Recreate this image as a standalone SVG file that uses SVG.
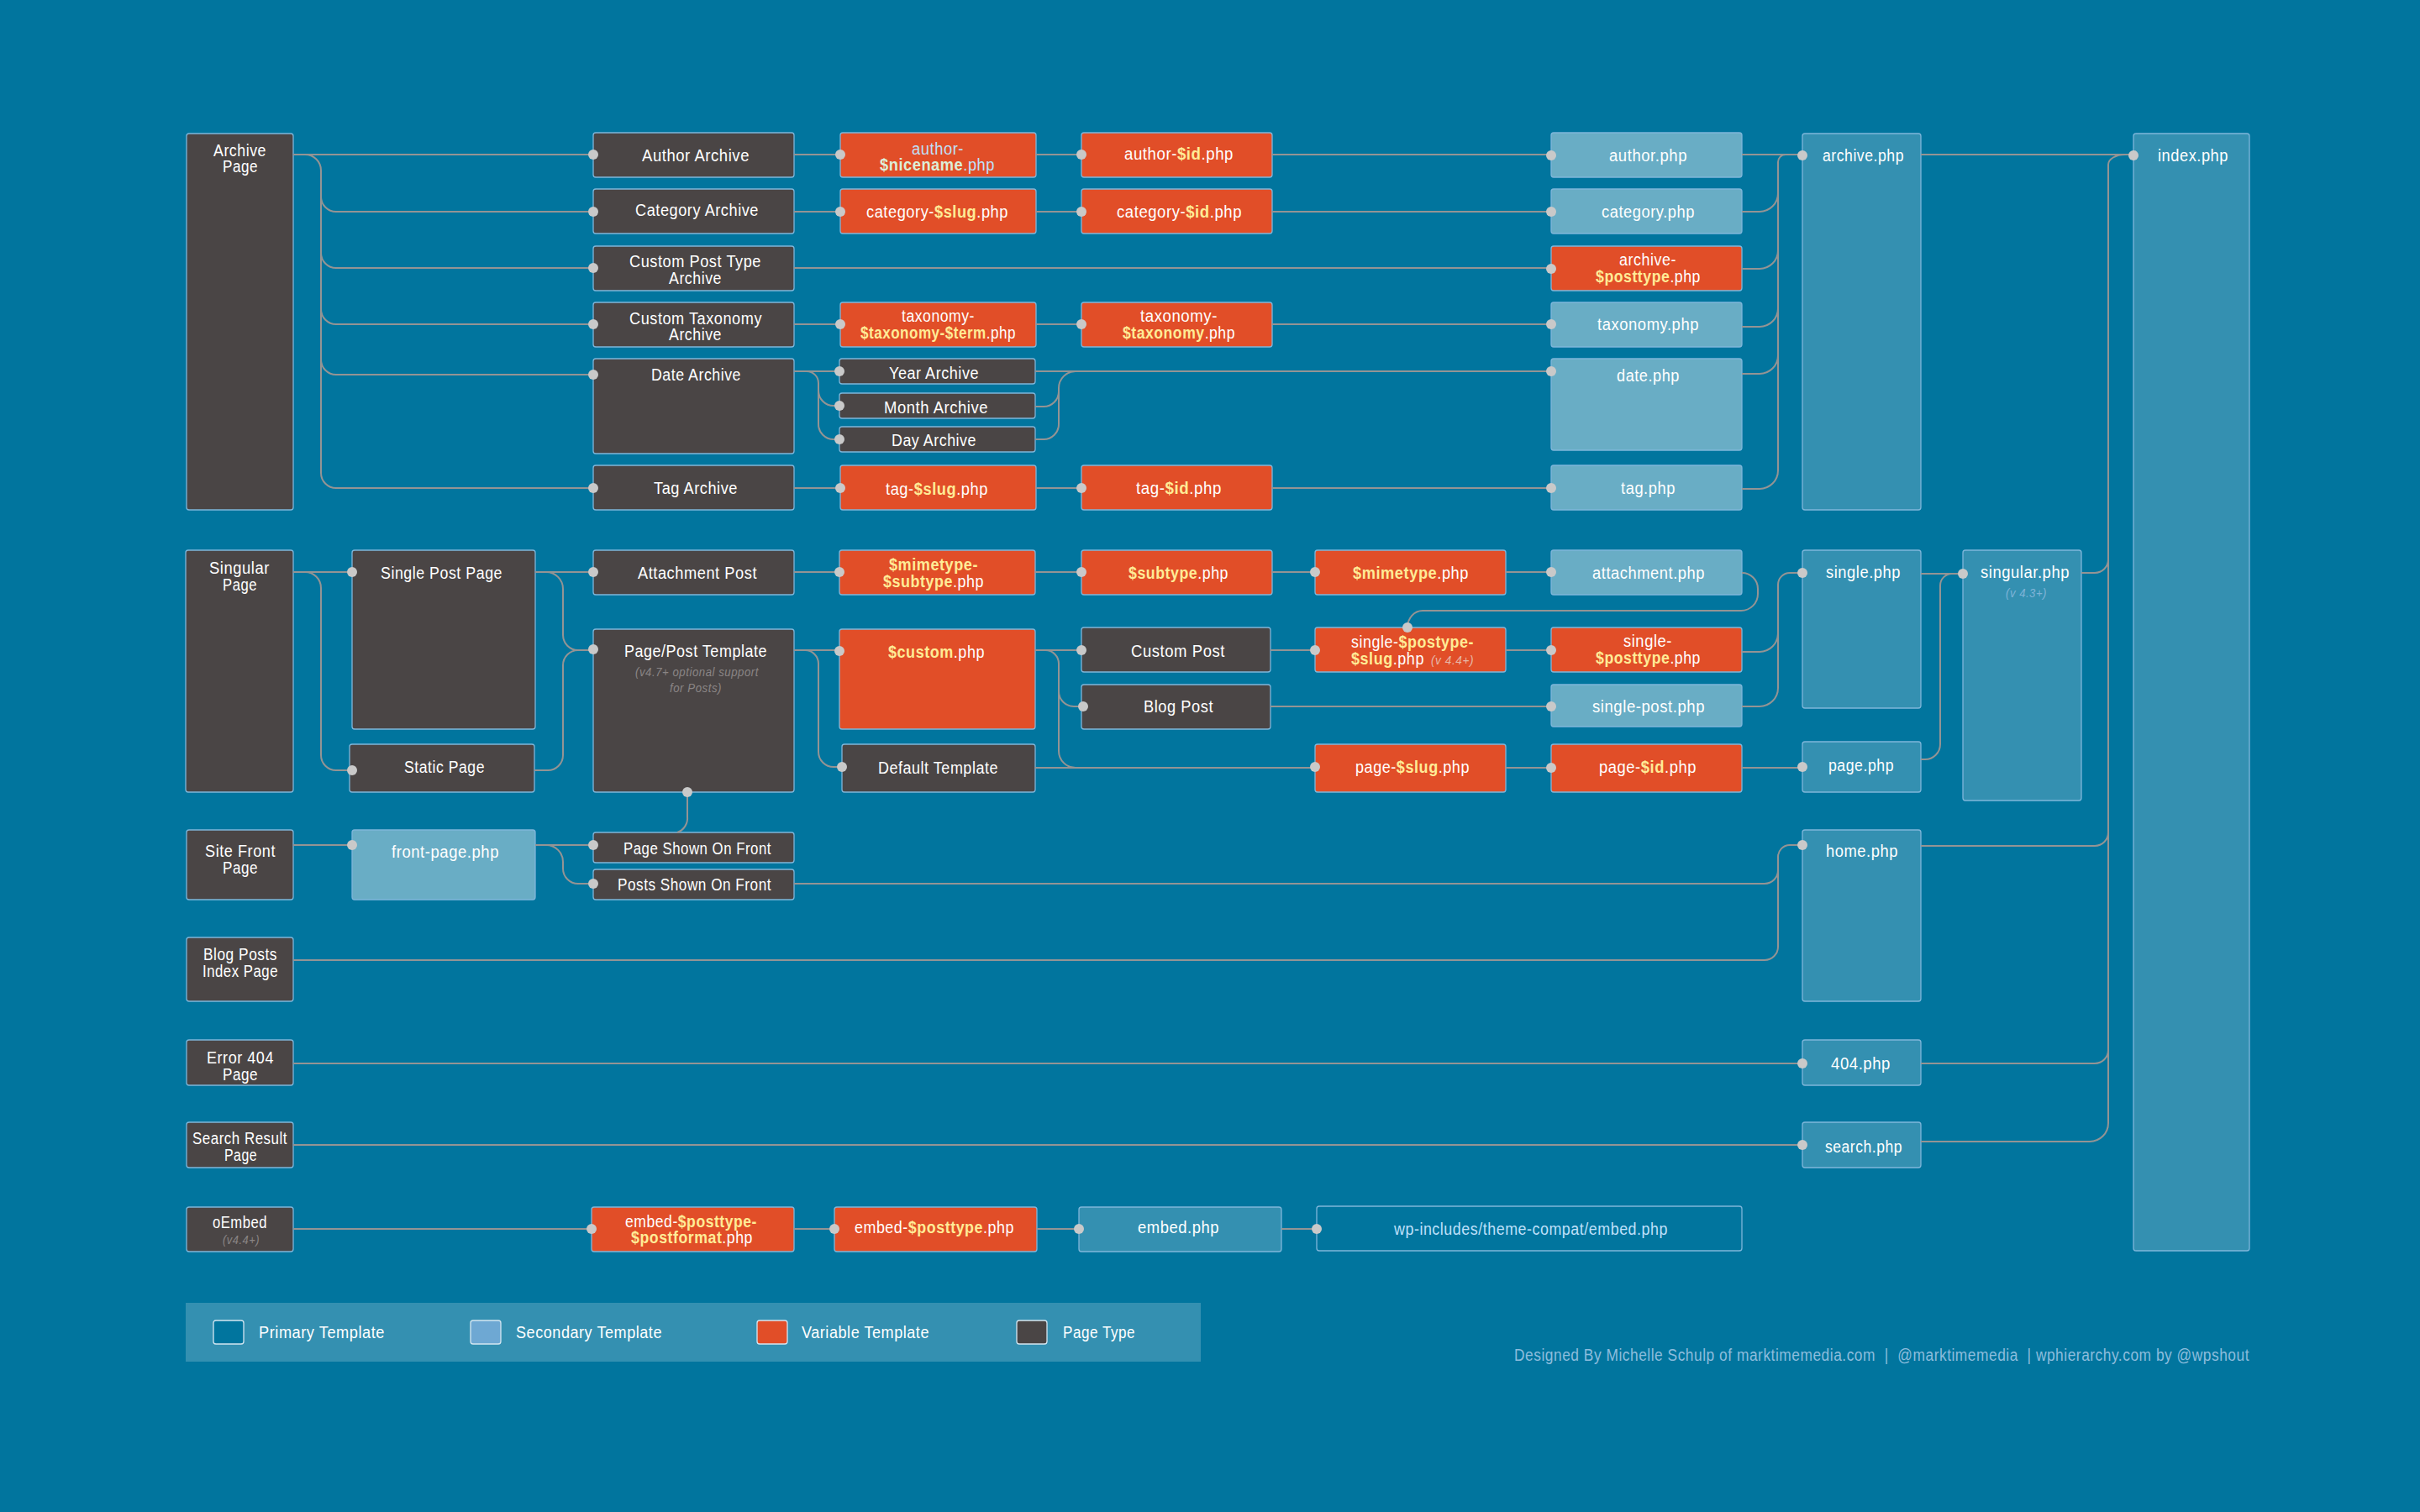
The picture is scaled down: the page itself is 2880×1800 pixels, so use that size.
<svg xmlns="http://www.w3.org/2000/svg" width="2880" height="1800" viewBox="0 0 2880 1800">
<style>
text{font-family:"Liberation Sans",Arial,sans-serif;font-size:20px;fill:#fff;letter-spacing:.6px}
.v{fill:#ffeb96;font-weight:700}
.note{font-size:15px;font-style:italic;fill:#8a8585}
.note2{font-size:15px;font-style:italic;fill:#e6b8a8}
.note3{font-size:15px;font-style:italic;fill:#7fb4d8}
.blue{fill:#bfe0fa}
.nice{fill:#dcefd8;font-weight:700}
.cred{fill:#8dbddd;font-size:20px}
rect{stroke:#7fb6da;stroke-width:1.3}
.pt rect{fill:#4a4545}
.var rect{fill:#e14e28}
.sec rect{fill:#69adc5}
.pri rect{fill:#3490b1}
.out rect{fill:#01759e}
.sw rect{stroke:#d4e6f1}
#legend-bar{fill:#3490b1;stroke:none}
#connectors path{fill:none;stroke:#949494;stroke-width:2}
#connectors circle{fill:#c9c9c9;stroke:none;r:6px}
</style>
<rect width="2880" height="1800" fill="#01759e" style="stroke:none"/>

<g id="n-archive-page" class="pt"><rect x="222" y="159" width="127" height="448" rx="3"/><text x="254" y="186" textLength="63" lengthAdjust="spacingAndGlyphs">Archive</text><text x="265" y="205" textLength="42" lengthAdjust="spacingAndGlyphs">Page</text></g>
<g id="n-author-archive" class="pt"><rect x="706" y="158" width="239" height="53" rx="3"/><text x="764" y="192" textLength="128" lengthAdjust="spacingAndGlyphs">Author Archive</text></g>
<g id="n-category-archive" class="pt"><rect x="706" y="225" width="239" height="53" rx="3"/><text x="756" y="257" textLength="147" lengthAdjust="spacingAndGlyphs">Category Archive</text></g>
<g id="n-cpt-archive" class="pt"><rect x="706" y="293" width="239" height="53" rx="3"/><text x="749" y="318" textLength="157" lengthAdjust="spacingAndGlyphs">Custom Post Type</text><text x="796" y="338" textLength="63" lengthAdjust="spacingAndGlyphs">Archive</text></g>
<g id="n-tax-archive" class="pt"><rect x="706" y="360" width="239" height="53" rx="3"/><text x="749" y="386" textLength="158" lengthAdjust="spacingAndGlyphs">Custom Taxonomy</text><text x="796" y="405" textLength="63" lengthAdjust="spacingAndGlyphs">Archive</text></g>
<g id="n-date-archive" class="pt"><rect x="706" y="427" width="239" height="113" rx="3"/><text x="775" y="453" textLength="107" lengthAdjust="spacingAndGlyphs">Date Archive</text></g>
<g id="n-tag-archive" class="pt"><rect x="706" y="554" width="239" height="53" rx="3"/><text x="778" y="588" textLength="100" lengthAdjust="spacingAndGlyphs">Tag Archive</text></g>

<g id="n-author-nicename" class="var"><rect x="1000" y="158" width="233" height="53" rx="3"/><text class="blue" x="1085" y="184" textLength="62" lengthAdjust="spacingAndGlyphs">author-</text><text class="blue" x="1047" y="203" textLength="137" lengthAdjust="spacingAndGlyphs"><tspan class="nice">$nicename</tspan>.php</text></g>
<g id="n-category-slug" class="var"><rect x="1000" y="225" width="233" height="53" rx="3"/><text x="1031" y="259" textLength="169" lengthAdjust="spacingAndGlyphs">category-<tspan class="v">$slug</tspan>.php</text></g>
<g id="n-taxonomy-term" class="var"><rect x="1000" y="360" width="233" height="53" rx="3"/><text x="1073" y="383" textLength="87" lengthAdjust="spacingAndGlyphs">taxonomy-</text><text x="1024" y="403" textLength="185" lengthAdjust="spacingAndGlyphs"><tspan class="v">$taxonomy-$term</tspan>.php</text></g>
<g id="n-year-archive" class="pt"><rect x="999" y="427" width="233" height="30" rx="3"/><text x="1058" y="451" textLength="107" lengthAdjust="spacingAndGlyphs">Year Archive</text></g>
<g id="n-month-archive" class="pt"><rect x="999" y="468" width="233" height="30" rx="3"/><text x="1052" y="492" textLength="124" lengthAdjust="spacingAndGlyphs">Month Archive</text></g>
<g id="n-day-archive" class="pt"><rect x="999" y="508" width="233" height="30" rx="3"/><text x="1061" y="531" textLength="101" lengthAdjust="spacingAndGlyphs">Day Archive</text></g>
<g id="n-tag-slug" class="var"><rect x="1000" y="554" width="233" height="53" rx="3"/><text x="1054" y="589" textLength="122" lengthAdjust="spacingAndGlyphs">tag-<tspan class="v">$slug</tspan>.php</text></g>

<g id="n-author-id" class="var"><rect x="1287" y="158" width="227" height="53" rx="3"/><text x="1338" y="190" textLength="130" lengthAdjust="spacingAndGlyphs">author-<tspan class="v">$id</tspan>.php</text></g>
<g id="n-category-id" class="var"><rect x="1287" y="225" width="227" height="53" rx="3"/><text x="1329" y="259" textLength="149" lengthAdjust="spacingAndGlyphs">category-<tspan class="v">$id</tspan>.php</text></g>
<g id="n-taxonomy-tax" class="var"><rect x="1287" y="360" width="227" height="53" rx="3"/><text x="1357" y="383" textLength="92" lengthAdjust="spacingAndGlyphs">taxonomy-</text><text x="1336" y="403" textLength="134" lengthAdjust="spacingAndGlyphs"><tspan class="v">$taxonomy</tspan>.php</text></g>
<g id="n-tag-id" class="var"><rect x="1287" y="554" width="227" height="53" rx="3"/><text x="1352" y="588" textLength="102" lengthAdjust="spacingAndGlyphs">tag-<tspan class="v">$id</tspan>.php</text></g>

<g id="n-author-php" class="sec"><rect x="1846" y="158" width="227" height="53" rx="3"/><text x="1915" y="192" textLength="93" lengthAdjust="spacingAndGlyphs">author.php</text></g>
<g id="n-category-php" class="sec"><rect x="1846" y="225" width="227" height="53" rx="3"/><text x="1906" y="259" textLength="111" lengthAdjust="spacingAndGlyphs">category.php</text></g>
<g id="n-archive-posttype" class="var"><rect x="1846" y="293" width="227" height="53" rx="3"/><text x="1927" y="316" textLength="68" lengthAdjust="spacingAndGlyphs">archive-</text><text x="1899" y="336" textLength="125" lengthAdjust="spacingAndGlyphs"><tspan class="v">$posttype</tspan>.php</text></g>
<g id="n-taxonomy-php" class="sec"><rect x="1846" y="360" width="227" height="53" rx="3"/><text x="1901" y="393" textLength="121" lengthAdjust="spacingAndGlyphs">taxonomy.php</text></g>
<g id="n-date-php" class="sec"><rect x="1846" y="427" width="227" height="109" rx="3"/><text x="1924" y="454" textLength="75" lengthAdjust="spacingAndGlyphs">date.php</text></g>
<g id="n-tag-php" class="sec"><rect x="1846" y="554" width="227" height="53" rx="3"/><text x="1929" y="588" textLength="65" lengthAdjust="spacingAndGlyphs">tag.php</text></g>
<g id="n-archive-php" class="pri"><rect x="2145" y="159" width="141" height="448" rx="3"/><text x="2169" y="192" textLength="97" lengthAdjust="spacingAndGlyphs">archive.php</text></g>
<g id="n-index-php" class="pri"><rect x="2539" y="159" width="138" height="1330" rx="3"/><text x="2568" y="192" textLength="84" lengthAdjust="spacingAndGlyphs">index.php</text></g>

<g id="n-singular-page" class="pt"><rect x="221" y="655" width="128" height="288" rx="3"/><text x="249" y="683" textLength="72" lengthAdjust="spacingAndGlyphs">Singular</text><text x="265" y="703" textLength="41" lengthAdjust="spacingAndGlyphs">Page</text></g>
<g id="n-single-post-page" class="pt"><rect x="419" y="655" width="218" height="213" rx="3"/><text x="453" y="689" textLength="145" lengthAdjust="spacingAndGlyphs">Single Post Page</text></g>
<g id="n-static-page" class="pt"><rect x="416" y="886" width="220" height="57" rx="3"/><text x="481" y="920" textLength="96" lengthAdjust="spacingAndGlyphs">Static Page</text></g>
<g id="n-attachment-post" class="pt"><rect x="706" y="655" width="239" height="53" rx="3"/><text x="759" y="689" textLength="142" lengthAdjust="spacingAndGlyphs">Attachment Post</text></g>
<g id="n-page-post-template" class="pt"><rect x="706" y="749" width="239" height="194" rx="3"/><text x="743" y="782" textLength="170" lengthAdjust="spacingAndGlyphs">Page/Post Template</text><text class="note" x="756" y="805" textLength="147" lengthAdjust="spacingAndGlyphs">(v4.7+ optional support</text><text class="note" x="797" y="824" textLength="62" lengthAdjust="spacingAndGlyphs">for Posts)</text></g>
<g id="n-mimetype-subtype" class="var"><rect x="999" y="655" width="233" height="53" rx="3"/><text x="1058" y="679" textLength="106" lengthAdjust="spacingAndGlyphs" class="v">$mimetype-</text><text x="1051" y="699" textLength="120" lengthAdjust="spacingAndGlyphs"><tspan class="v">$subtype</tspan>.php</text></g>
<g id="n-custom" class="var"><rect x="999" y="749" width="233" height="119" rx="3"/><text x="1057" y="783" textLength="115" lengthAdjust="spacingAndGlyphs"><tspan class="v">$custom</tspan>.php</text></g>
<g id="n-default-template" class="pt"><rect x="1002" y="886" width="230" height="57" rx="3"/><text x="1045" y="921" textLength="143" lengthAdjust="spacingAndGlyphs">Default Template</text></g>
<g id="n-subtype" class="var"><rect x="1287" y="655" width="227" height="53" rx="3"/><text x="1343" y="689" textLength="119" lengthAdjust="spacingAndGlyphs"><tspan class="v">$subtype</tspan>.php</text></g>
<g id="n-custom-post" class="pt"><rect x="1287" y="747" width="225" height="53" rx="3"/><text x="1346" y="782" textLength="112" lengthAdjust="spacingAndGlyphs">Custom Post</text></g>
<g id="n-blog-post" class="pt"><rect x="1287" y="815" width="225" height="53" rx="3"/><text x="1361" y="848" textLength="83" lengthAdjust="spacingAndGlyphs">Blog Post</text></g>
<g id="n-mimetype" class="var"><rect x="1565" y="655" width="227" height="53" rx="3"/><text x="1610" y="689" textLength="138" lengthAdjust="spacingAndGlyphs"><tspan class="v">$mimetype</tspan>.php</text></g>
<g id="n-single-postype-slug" class="var"><rect x="1565" y="747" width="227" height="53" rx="3"/><text x="1608" y="771" textLength="146" lengthAdjust="spacingAndGlyphs">single-<tspan class="v">$postype-</tspan></text><text x="1608" y="791" textLength="87" lengthAdjust="spacingAndGlyphs"><tspan class="v">$slug</tspan>.php</text><text class="note2" x="1703" y="791" textLength="51" lengthAdjust="spacingAndGlyphs">(v 4.4+)</text></g>
<g id="n-page-slug" class="var"><rect x="1565" y="886" width="227" height="57" rx="3"/><text x="1613" y="920" textLength="136" lengthAdjust="spacingAndGlyphs">page-<tspan class="v">$slug</tspan>.php</text></g>
<g id="n-attachment-php" class="sec"><rect x="1846" y="655" width="227" height="53" rx="3"/><text x="1895" y="689" textLength="134" lengthAdjust="spacingAndGlyphs">attachment.php</text></g>
<g id="n-single-posttype" class="var"><rect x="1846" y="747" width="227" height="53" rx="3"/><text x="1932" y="770" textLength="58" lengthAdjust="spacingAndGlyphs">single-</text><text x="1899" y="790" textLength="125" lengthAdjust="spacingAndGlyphs"><tspan class="v">$posttype</tspan>.php</text></g>
<g id="n-single-post-php" class="sec"><rect x="1846" y="815" width="227" height="50" rx="3"/><text x="1895" y="848" textLength="134" lengthAdjust="spacingAndGlyphs">single-post.php</text></g>
<g id="n-page-id" class="var"><rect x="1846" y="886" width="227" height="57" rx="3"/><text x="1903" y="920" textLength="116" lengthAdjust="spacingAndGlyphs">page-<tspan class="v">$id</tspan>.php</text></g>
<g id="n-single-php" class="pri"><rect x="2145" y="655" width="141" height="188" rx="3"/><text x="2173" y="688" textLength="89" lengthAdjust="spacingAndGlyphs">single.php</text></g>
<g id="n-page-php" class="pri"><rect x="2145" y="883" width="141" height="60" rx="3"/><text x="2176" y="918" textLength="78" lengthAdjust="spacingAndGlyphs">page.php</text></g>
<g id="n-singular-php" class="pri"><rect x="2336" y="655" width="141" height="298" rx="3"/><text x="2357" y="688" textLength="106" lengthAdjust="spacingAndGlyphs">singular.php</text><text class="note3" x="2387" y="711" textLength="49" lengthAdjust="spacingAndGlyphs">(v 4.3+)</text></g>

<g id="n-site-front" class="pt"><rect x="222" y="988" width="127" height="83" rx="3"/><text x="244" y="1020" textLength="84" lengthAdjust="spacingAndGlyphs">Site Front</text><text x="265" y="1040" textLength="42" lengthAdjust="spacingAndGlyphs">Page</text></g>
<g id="n-front-page-php" class="sec"><rect x="419" y="988" width="218" height="83" rx="3"/><text x="466" y="1021" textLength="128" lengthAdjust="spacingAndGlyphs">front-page.php</text></g>
<g id="n-page-shown" class="pt"><rect x="706" y="991" width="239" height="36" rx="3"/><text x="742" y="1017" textLength="176" lengthAdjust="spacingAndGlyphs">Page Shown On Front</text></g>
<g id="n-posts-shown" class="pt"><rect x="706" y="1035" width="239" height="36" rx="3"/><text x="735" y="1060" textLength="183" lengthAdjust="spacingAndGlyphs">Posts Shown On Front</text></g>
<g id="n-home-php" class="pri"><rect x="2145" y="988" width="141" height="204" rx="3"/><text x="2173" y="1020" textLength="86" lengthAdjust="spacingAndGlyphs">home.php</text></g>
<g id="n-blog-index" class="pt"><rect x="222" y="1116" width="127" height="76" rx="3"/><text x="242" y="1143" textLength="88" lengthAdjust="spacingAndGlyphs">Blog Posts</text><text x="241" y="1163" textLength="90" lengthAdjust="spacingAndGlyphs">Index Page</text></g>
<g id="n-error-404" class="pt"><rect x="222" y="1238" width="127" height="54" rx="3"/><text x="246" y="1266" textLength="80" lengthAdjust="spacingAndGlyphs">Error 404</text><text x="265" y="1286" textLength="42" lengthAdjust="spacingAndGlyphs">Page</text></g>
<g id="n-404-php" class="pri"><rect x="2145" y="1238" width="141" height="54" rx="3"/><text x="2179" y="1273" textLength="71" lengthAdjust="spacingAndGlyphs">404.php</text></g>
<g id="n-search-result" class="pt"><rect x="222" y="1336" width="127" height="54" rx="3"/><text x="229" y="1362" textLength="113" lengthAdjust="spacingAndGlyphs">Search Result</text><text x="267" y="1382" textLength="39" lengthAdjust="spacingAndGlyphs">Page</text></g>
<g id="n-search-php" class="pri"><rect x="2145" y="1336" width="141" height="54" rx="3"/><text x="2172" y="1372" textLength="92" lengthAdjust="spacingAndGlyphs">search.php</text></g>
<g id="n-oembed" class="pt"><rect x="222" y="1437" width="127" height="53" rx="3"/><text x="253" y="1462" textLength="65" lengthAdjust="spacingAndGlyphs">oEmbed</text><text class="note" x="265" y="1481" textLength="44" lengthAdjust="spacingAndGlyphs">(v4.4+)</text></g>
<g id="n-embed-posttype-postformat" class="var"><rect x="704" y="1437" width="241" height="53" rx="3"/><text x="744" y="1461" textLength="157" lengthAdjust="spacingAndGlyphs">embed-<tspan class="v">$posttype-</tspan></text><text x="751" y="1480" textLength="145" lengthAdjust="spacingAndGlyphs"><tspan class="v">$postformat</tspan>.php</text></g>
<g id="n-embed-posttype" class="var"><rect x="993" y="1437" width="241" height="53" rx="3"/><text x="1017" y="1468" textLength="190" lengthAdjust="spacingAndGlyphs">embed-<tspan class="v">$posttype</tspan>.php</text></g>
<g id="n-embed-php" class="pri"><rect x="1284" y="1437" width="241" height="53" rx="3"/><text x="1354" y="1468" textLength="97" lengthAdjust="spacingAndGlyphs">embed.php</text></g>
<g id="n-theme-compat" class="out"><rect x="1567" y="1436" width="506" height="53" rx="3"/><text class="blue" x="1659" y="1470" textLength="326" lengthAdjust="spacingAndGlyphs">wp-includes/theme-compat/embed.php</text></g>

<g id="legend">
<rect id="legend-bar" x="221" y="1551" width="1208" height="70"/>
<g class="out sw"><rect x="254" y="1572" width="36" height="28" rx="3"/><text x="308" y="1593" textLength="150" lengthAdjust="spacingAndGlyphs">Primary Template</text></g>
<g class="sw"><rect x="560" y="1572" width="36" height="28" rx="3" fill="#6ea8d3"/><text x="614" y="1593" textLength="174" lengthAdjust="spacingAndGlyphs">Secondary Template</text></g>
<g class="var sw"><rect x="901" y="1572" width="36" height="28" rx="3"/><text x="954" y="1593" textLength="152" lengthAdjust="spacingAndGlyphs">Variable Template</text></g>
<g class="pt sw"><rect x="1210" y="1572" width="36" height="28" rx="3"/><text x="1265" y="1593" textLength="86" lengthAdjust="spacingAndGlyphs">Page Type</text></g>
</g>
<text class="cred" x="1802" y="1620" textLength="875" lengthAdjust="spacingAndGlyphs" xml:space="preserve">Designed By Michelle Schulp of marktimemedia.com  |  @marktimemedia  | wphierarchy.com by @wpshout</text>

<g id="connectors">
<path d="M349 184H706M945 184H1000M1233 184H1287M1514 184H1846M2073 184H2145M2286 184H2539"/>
<path d="M363 184A19 19 0 0 1 382 203V563A18 18 0 0 0 400 581H706"/>
<path d="M382 234A18 18 0 0 0 400 252H706M382 301A18 18 0 0 0 400 319H706M382 368A18 18 0 0 0 400 386H706M382 428A18 18 0 0 0 400 446H706"/>
<path d="M945 252H1000M1233 252H1287M1514 252H1846M945 319H1846M945 386H1000M1233 386H1287M1514 386H1846M945 581H1000M1233 581H1287M1514 581H1846"/>
<path d="M2125 184A9 9 0 0 0 2116 193V560A22 22 0 0 1 2094 582H2073M2073 252H2094A22 22 0 0 0 2116 230M2073 320H2094A22 22 0 0 0 2116 298M2073 389H2094A22 22 0 0 0 2116 367M2073 445H2094A22 22 0 0 0 2116 423"/>
<path d="M945 442H999M960 442A14 14 0 0 1 974 456V505A18 18 0 0 0 992 523H999M974 465A18 18 0 0 0 992 483H999"/>
<path d="M1232 442H1846M1280 442A20 20 0 0 0 1260 462V505A18 18 0 0 1 1242 523H1232M1232 484H1242A18 18 0 0 0 1260 466"/>
<path d="M2529 184A20 12 0 0 0 2509 196V1337A22 22 0 0 1 2487 1359H2286M2286 1266H2493A16 16 0 0 0 2509 1250M2286 1007H2493A16 16 0 0 0 2509 991M2477 682H2493A16 16 0 0 0 2509 666"/>
<path d="M349 681H419M363 681A19 19 0 0 1 382 700V899A18 18 0 0 0 400 917H419"/>
<path d="M637 681H706M650 681A20 20 0 0 1 670 701V756A18 18 0 0 0 688 774H706M636 917H652A18 18 0 0 0 670 899V792A18 18 0 0 1 688 774"/>
<path d="M945 681H999M1232 681H1287M1514 681H1565M1792 681H1846"/>
<path d="M2073 682A19 19 0 0 1 2092 701V707A20 20 0 0 1 2072 727H1693A18 20 0 0 0 1675 747"/>
<path d="M945 774H999M958 774A16 16 0 0 1 974 790V895A18 18 0 0 0 992 913H1002"/>
<path d="M1232 774H1287M1244 774A16 16 0 0 1 1260 790V823A18 18 0 0 0 1278 841H1289M1260 823V894A20 20 0 0 0 1280 914M1232 914H1565M1512 774H1565M1792 774H1846M1512 841H1846M1792 914H1846M2073 914H2145"/>
<path d="M2145 682H2130A14 14 0 0 0 2116 696V819A22 22 0 0 1 2094 841H2073M2073 776H2094A22 22 0 0 0 2116 754"/>
<path d="M2286 683H2336M2323 683A14 14 0 0 0 2309 697V886A18 18 0 0 1 2291 904H2286"/>
<path d="M349 1006H419M637 1006H706M650 1006A20 20 0 0 1 670 1026V1034A18 18 0 0 0 688 1052H706"/>
<path d="M818 943V972A18 18 0 0 1 806 991"/>
<path d="M2145 1006H2130A14 14 0 0 0 2116 1020V1127A16 16 0 0 1 2100 1143H349M945 1052H2100A16 16 0 0 0 2116 1036"/>
<path d="M349 1266H2145M349 1363H2145M349 1463H704M945 1463H993M1234 1463H1284M1525 1463H1567"/>
<circle cx="706" cy="184"/><circle cx="1000" cy="184"/><circle cx="1287" cy="184"/><circle cx="1846" cy="185"/><circle cx="2145" cy="185"/><circle cx="2539" cy="185"/>
<circle cx="706" cy="252"/><circle cx="1000" cy="252"/><circle cx="1287" cy="252"/><circle cx="1846" cy="252"/>
<circle cx="706" cy="319"/><circle cx="1846" cy="320"/>
<circle cx="706" cy="386"/><circle cx="1000" cy="386"/><circle cx="1287" cy="386"/><circle cx="1846" cy="386"/>
<circle cx="706" cy="446"/><circle cx="999" cy="442"/><circle cx="999" cy="483"/><circle cx="999" cy="523"/><circle cx="1846" cy="442"/>
<circle cx="706" cy="581"/><circle cx="1000" cy="581"/><circle cx="1287" cy="581"/><circle cx="1846" cy="581"/>
<circle cx="419" cy="681"/><circle cx="706" cy="681"/><circle cx="999" cy="681"/><circle cx="1287" cy="681"/><circle cx="1565" cy="681"/><circle cx="1846" cy="681"/><circle cx="2145" cy="682"/><circle cx="2336" cy="683"/>
<circle cx="706" cy="773"/><circle cx="999" cy="775"/><circle cx="1287" cy="774"/><circle cx="1565" cy="774"/><circle cx="1675" cy="747"/><circle cx="1846" cy="774"/>
<circle cx="1289" cy="841"/><circle cx="1846" cy="841"/>
<circle cx="419" cy="917"/><circle cx="1002" cy="913"/><circle cx="1565" cy="913"/><circle cx="1846" cy="914"/><circle cx="2145" cy="913"/>
<circle cx="818" cy="943"/>
<circle cx="419" cy="1006"/><circle cx="706" cy="1006"/><circle cx="706" cy="1052"/><circle cx="2145" cy="1006"/>
<circle cx="2145" cy="1266"/><circle cx="2145" cy="1363"/>
<circle cx="704" cy="1463"/><circle cx="993" cy="1463"/><circle cx="1284" cy="1463"/><circle cx="1567" cy="1463"/>
</g>
</svg>
